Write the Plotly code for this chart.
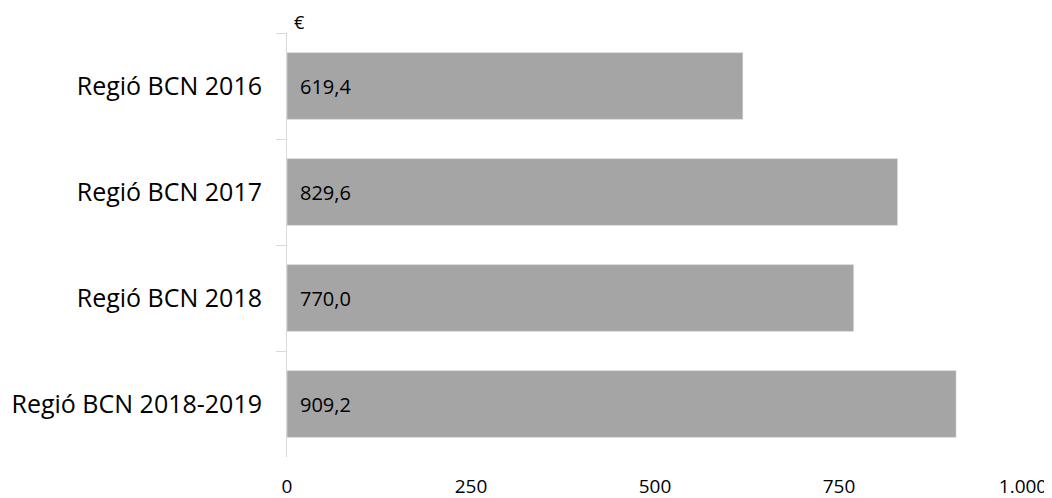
import plotly.graph_objects as go

categories = ["Regió BCN 2016", "Regió BCN 2017", "Regió BCN 2018", "Regió BCN 2018-2019"]
values = [619.4, 829.6, 770.0, 909.2]
value_labels = ["619,4", "829,6", "770,0", "909,2"]
x_ticks = [0, 250, 500, 750, 1000]
x_tick_labels = ["0", "250", "500", "750", "1.000"]

fig = go.Figure()
fig.add_trace(go.Bar(
    x=values,
    y=categories,
    orientation="h",
    marker=dict(color="#a5a5a5"),
    width=0.63,
    hoverinfo="skip",
))

for cat, lab in zip(categories, value_labels):
    fig.add_annotation(x=0, y=cat, text=lab, showarrow=False,
                       xanchor="left", xshift=11,
                       font=dict(size=20, color="#000000"))

# unit label above the axis
fig.add_annotation(x=0, y=1, xref="x", yref="paper", text="€", showarrow=False,
                   xanchor="left", yanchor="middle", xshift=5, yshift=11,
                   font=dict(size=18, color="#000000"))

fig.update_xaxes(
    range=[0, 1000],
    tickvals=x_ticks,
    ticktext=x_tick_labels,
    showgrid=False,
    zeroline=False,
    showline=False,
    ticks="",
    ticklabelstandoff=16,
    automargin=False,
    tickfont=dict(size=19, color="#000000"),
)
fig.update_yaxes(
    autorange="reversed",
    showline=True,
    linecolor="#d9d9d9",
    linewidth=1,
    ticks="outside",
    tickson="boundaries",
    ticklen=10,
    tickcolor="#d9d9d9",
    ticklabelstandoff=19,
    automargin=False,
    showgrid=False,
    tickfont=dict(size=25, color="#000000"),
)
# page body has an 8px margin, so the figure is 8px smaller each way
fig.update_layout(
    width=1044,
    height=490,
    margin=dict(l=279, r=29, t=25, b=41),
    plot_bgcolor="white",
    paper_bgcolor="white",
    font=dict(family="Open Sans, Noto Sans, sans-serif"),
    showlegend=False,
    bargap=0.37,
)

fig.write_html("out.html")
